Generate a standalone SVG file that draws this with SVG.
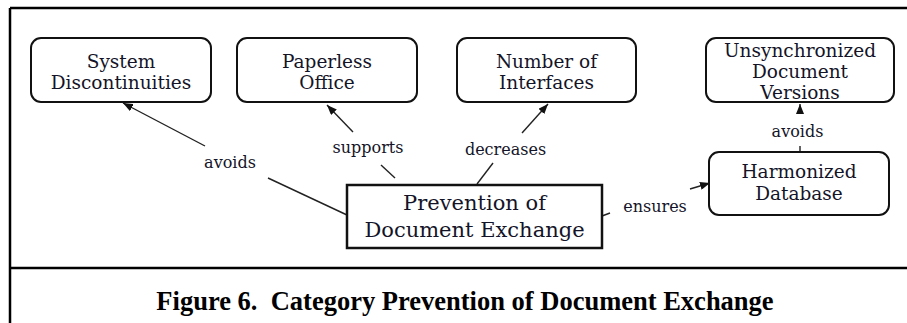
<svg xmlns="http://www.w3.org/2000/svg" width="907" height="323" viewBox="0 0 907 323">
<style>
.frame{fill:none;stroke:#000;stroke-width:2.5}
.node{fill:#fff;stroke:#111;stroke-width:2}
.main{fill:#fff;stroke:#111;stroke-width:2.5}
.nt{font-family:"DejaVu Serif","Liberation Serif",serif;font-size:18.5px;fill:#141428;text-anchor:middle}
.mt{font-family:"DejaVu Serif","Liberation Serif",serif;font-size:21px;fill:#141428;text-anchor:middle}
.lbl{font-family:"DejaVu Serif","Liberation Serif",serif;font-size:16px;fill:#141428;text-anchor:middle}
.edge{fill:none;stroke:#222;stroke-width:1.4}
.cap{font-family:"Liberation Serif","Times New Roman",serif;font-size:26.5px;font-weight:bold;fill:#000;text-anchor:middle;white-space:pre}
</style>
<defs>
<marker id="arr" markerUnits="userSpaceOnUse" markerWidth="10" markerHeight="8" refX="10" refY="4" orient="auto">
<path d="M0,0 L10,4 L0,8 z" fill="#111"/>
</marker>
</defs>
<rect width="907" height="323" fill="#fff"/>
<g id="frame">
<path class="frame" d="M10,8 H907 M10,8 V323 M10,268 H907"/>
</g>
<g id="connectors">
<path class="edge" d="M347,215 L268,178"/>
<path class="edge" d="M205,146 L123,103" marker-end="url(#arr)"/>
<path class="edge" d="M395,178 L381,165"/>
<path class="edge" d="M353,132 L327,105" marker-end="url(#arr)"/>
<path class="edge" d="M477,184 L493,163"/>
<path class="edge" d="M522,133 L548,104" marker-end="url(#arr)"/>
<path class="edge" d="M602,216 L610,213"/>
<path class="edge" d="M690,189 L710,183" marker-end="url(#arr)"/>
<path class="edge" d="M800,152 L800,146"/>
<path class="edge" d="M800,114 L800,104" marker-end="url(#arr)"/>
<text class="lbl" x="230" y="168">avoids</text>
<text class="lbl" x="368" y="153">supports</text>
<text class="lbl" x="505.5" y="155">decreases</text>
<text class="lbl" x="655" y="212">ensures</text>
<text class="lbl" x="797.5" y="137">avoids</text>
</g>
<g id="n-system">
<rect class="node" x="31" y="38" width="180" height="64" rx="10"/>
<text class="nt" x="121" y="68">System</text>
<text class="nt" x="121" y="88.5">Discontinuities</text>
</g>
<g id="n-paperless">
<rect class="node" x="237" y="38" width="180" height="64" rx="10"/>
<text class="nt" x="327" y="68">Paperless</text>
<text class="nt" x="327" y="88.5">Office</text>
</g>
<g id="n-interfaces">
<rect class="node" x="457" y="38" width="179" height="64" rx="10"/>
<text class="nt" x="546.5" y="67.5">Number of</text>
<text class="nt" x="546.5" y="88.5">Interfaces</text>
</g>
<g id="n-unsync">
<rect class="node" x="706" y="38" width="188" height="64" rx="10"/>
<text class="nt" x="800" y="57">Unsynchronized</text>
<text class="nt" x="800" y="78">Document</text>
<text class="nt" x="800" y="99">Versions</text>
</g>
<g id="n-harmonized">
<rect class="node" x="709" y="152" width="180" height="63" rx="10"/>
<text class="nt" x="799" y="178">Harmonized</text>
<text class="nt" x="799" y="200">Database</text>
</g>
<g id="n-prevention">
<rect class="main" x="347" y="185" width="255" height="63"/>
<text class="mt" x="474.5" y="210">Prevention of</text>
<text class="mt" x="474.5" y="237">Document Exchange</text>
</g>
<text class="cap" x="465" y="310" xml:space="preserve">Figure 6.  Category Prevention of Document Exchange</text>
</svg>
